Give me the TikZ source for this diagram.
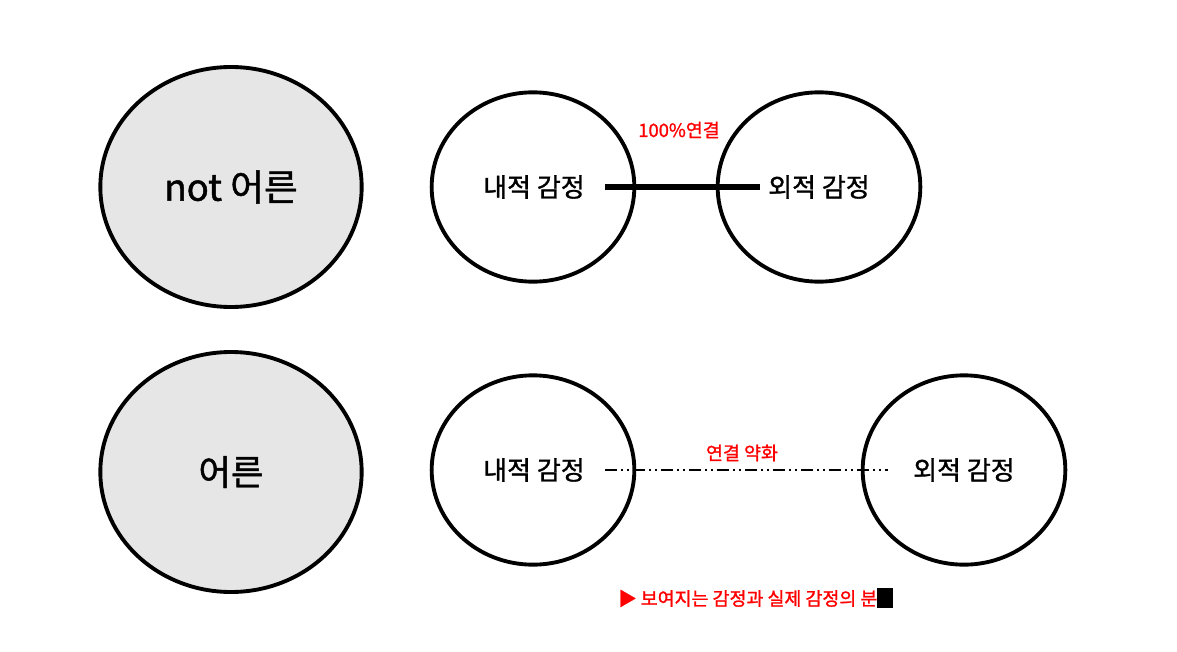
\documentclass[tikz,border=0pt]{standalone}
\usepackage{fontspec}
\setmainfont{Noto Sans CJK KR}[AutoFakeBold=1.3]
\usetikzlibrary{shapes.geometric, positioning}
\definecolor{notered}{RGB}{255, 0, 0}
\definecolor{adultgray}{RGB}{230, 230, 230}

\tikzset{
  bubble/.style={ellipse, draw=black, line width=2.9pt, inner sep=0pt},
  bigbubble/.style={bubble, fill=adultgray, minimum width=196pt, minimum height=180pt},
  smallbubble/.style={bubble, fill=white, minimum width=152pt, minimum height=142pt},
  feel/.style={font=\fontsize{19.5}{22}\bfseries, inner sep=0pt},
  rednote/.style={font=\fontsize{13.8}{16}\bfseries, text=notered, inner sep=0pt},
  strongline/.style={line width=3.8pt, black},
  weakline/.style={line width=1pt, black, dash pattern=on 9pt off 3pt on 1.5pt off 3pt on 1.5pt off 3pt}
}

\begin{document}
\begin{tikzpicture}[x=0.75pt, y=-0.75pt]
  \useasboundingbox (0,0) rectangle (1177,652);

  % left column
  \node[bigbubble] (notadult) at (231,187) {};
  \node[font=\fontsize{27.5}{30}\bfseries] at (notadult) {not 어른};
  \node[bigbubble] (adult) at (231,472) {};
  \node[font=\fontsize{26.5}{30}\bfseries] at (adult) {어른};

  % top row
  \node[smallbubble] (innerA) at (533,187) {};
  \node[smallbubble] (outerA) at (819,187) {};
  \node[feel] (innerAtxt) at (534,187) {내적 감정};
  \node[feel] (outerAtxt) at (819,187) {외적 감정};
  \draw[strongline] ([xshift=15pt]innerAtxt.east) -- ([xshift=-6pt]outerAtxt.west);
  \node[rednote] (fullLink) at (679,130) {100\%연결};

  % bottom row
  \node[smallbubble] (innerB) at (533,470) {};
  \node[smallbubble] (outerB) at (964,470) {};
  \node[feel] (innerBtxt) at (534,470) {내적 감정};
  \node[feel] (outerBtxt) at (964,470) {외적 감정};
  \draw[weakline] ([xshift=15pt]innerBtxt.east) -- ([xshift=-19pt]outerBtxt.west);
  \node[rednote] (weakLink) at (742,453) {연결 약화};

  \node[rednote, anchor=west] (gapNote) at (618,598)
       {▶ 보여지는 감정과 실제 감정의 분{\color{black}\rule[-0.15em]{0.85em}{1.1em}}};
\end{tikzpicture}
\end{document}
